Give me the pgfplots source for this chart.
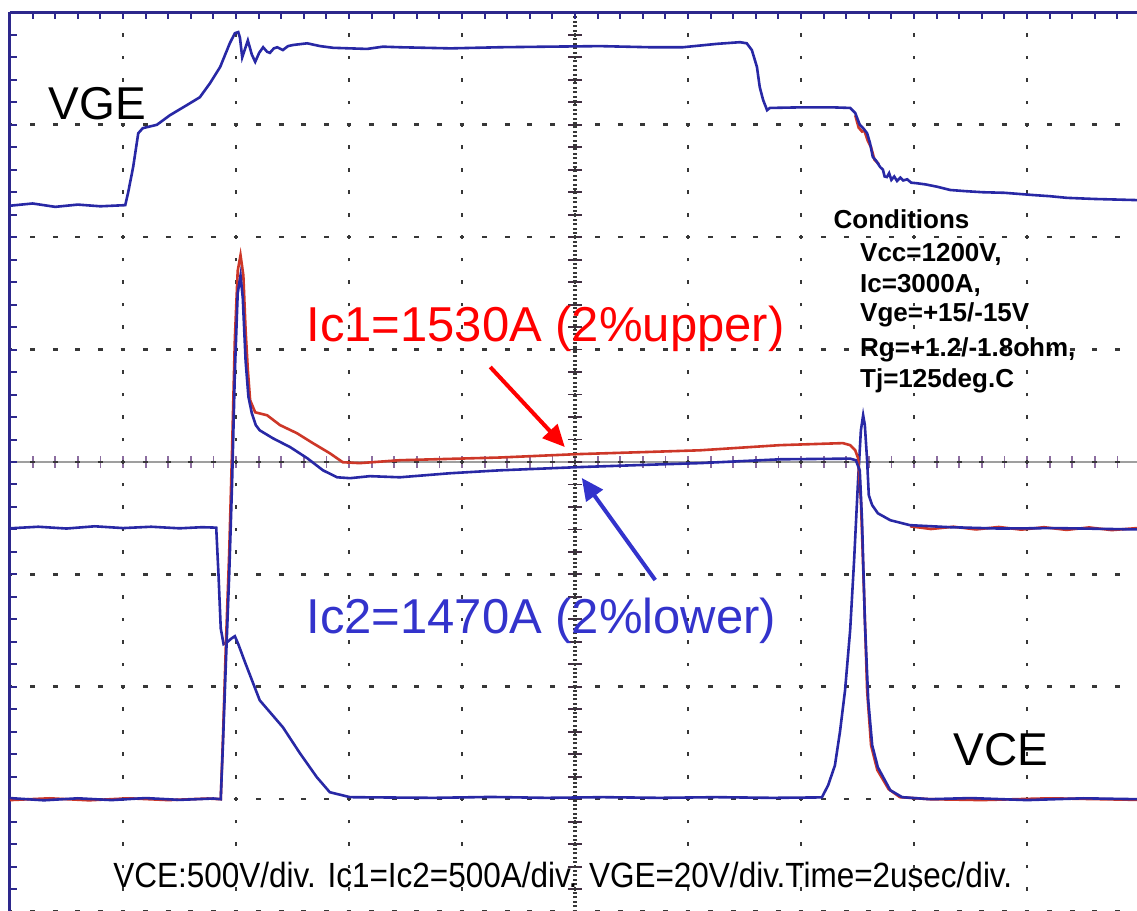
\documentclass[border=0pt]{standalone}
\usepackage{pgfplots}
\pgfplotsset{compat=1.18}
\usepackage{pgfplotstable}
\usepackage{fontspec}
\setmainfont{Liberation Sans}
\newfontfamily\narrowfont[FakeStretch=0.90]{Liberation Sans}
\usetikzlibrary{arrows.meta}
\definecolor{trblue}{RGB}{40,40,165}
\definecolor{trred}{RGB}{205,55,40}
\definecolor{txtred}{RGB}{255,0,0}
\definecolor{txtblue}{RGB}{51,51,204}
\definecolor{frame}{RGB}{45,40,140}
\definecolor{gdot}{RGB}{55,55,55}
\definecolor{ctick}{RGB}{140,110,160}

% VGE (V), 20 V/div
\pgfplotstableread{
t V
0.00 -14.4
0.40 -14.0
0.80 -14.6
1.20 -14.2
1.60 -14.5
2.04 -14.3
2.09 -12.1
2.18 -7.5
2.27 -1.5
2.35 -0.6
2.60 0.0
2.83 1.7
3.13 3.5
3.36 4.9
3.54 7.4
3.72 10.3
3.89 14.5
3.98 16.3
4.04 16.5
4.07 15.5
4.11 12.0
4.16 13.5
4.21 15.0
4.28 12.5
4.34 11.2
4.41 12.8
4.48 13.8
4.55 13.0
4.60 12.8
4.67 13.6
4.73 13.8
4.83 13.3
4.92 14.0
5.01 14.2
5.26 14.5
5.49 14.0
5.72 13.7
6.32 13.5
6.60 13.9
6.90 13.8
7.80 13.6
8.67 13.8
9.50 13.9
10.44 14.0
11.33 13.8
11.91 13.8
12.51 14.4
12.92 14.7
13.04 14.5
13.13 13.3
13.22 10.3
13.27 6.7
13.33 4.4
13.40 2.6
13.45 3.0
13.98 3.1
14.57 3.1
14.87 3.0
14.96 2.1
15.04 0.0
15.10 -0.6
15.17 -1.5
15.22 -3.2
15.27 -5.7
15.33 -6.4
15.40 -7.5
15.45 -8.0
15.48 -9.2
15.52 -9.3
15.56 -8.6
15.60 -9.8
15.65 -9.2
15.70 -10.0
15.76 -9.4
15.81 -9.9
15.88 -9.7
15.95 -10.3
16.05 -10.4
16.20 -10.6
16.40 -11.0
16.64 -11.6
16.90 -11.8
17.22 -12.0
17.60 -12.1
18.11 -12.5
18.40 -12.7
18.71 -13.0
19.20 -13.2
19.95 -13.4
}\vgeblue
\pgfplotstableread{
t V
14.96 1.7
15.02 -0.5
15.08 -1.2
15.12 -1.0
15.18 -2.8
15.24 -4.0
15.30 -6.2
15.38 -7.0
}\vgered

% VCE (V), 500 V/div
\pgfplotstableread{
t V
0.00 1205
0.50 1212
1.00 1204
1.50 1214
2.00 1206
2.50 1212
3.00 1205
3.40 1210
3.65 1208
3.69 1000
3.73 760
3.78 690
3.85 700
3.92 715
3.98 725
4.04 690
4.16 609
4.42 440
4.83 320
5.13 205
5.43 98
5.66 31
6.02 9
6.50 8
7.50 6
8.50 10
9.50 6
10.50 9
11.50 6
12.50 9
13.50 6
14.37 8
14.48 62
14.60 150
14.69 300
14.78 485
14.87 752
14.94 1063
15.01 1419
15.06 1641
15.10 1708
15.13 1664
15.17 1508
15.20 1352
15.26 1308
15.36 1272
15.58 1241
15.93 1219
16.64 1210
17.50 1204
18.50 1206
19.95 1200
}\vceblue
\pgfplotstableread{
t V
15.93 1214
16.30 1202
16.70 1212
17.10 1200
17.50 1211
17.90 1199
18.30 1210
18.70 1198
19.10 1209
19.50 1197
19.95 1206
}\vcered

% Ic2 (A), 500 A/div
\pgfplotstableread{
t A
0.00 5
0.60 -5
1.20 4
1.80 -4
2.40 5
3.00 -3
3.60 3
3.73 0
3.77 250
3.82 600
3.88 1000
3.93 1400
3.98 1900
4.03 2250
4.08 2330
4.12 2230
4.17 1950
4.22 1790
4.28 1717
4.35 1664
4.42 1641
4.65 1606
4.96 1566
5.26 1517
5.54 1463
5.79 1432
6.02 1428
6.37 1437
6.90 1432
7.79 1450
8.67 1463
10.04 1477
11.33 1488
12.21 1495
13.63 1512
14.87 1515
14.97 1508
15.04 1463
15.08 1241
15.13 796
15.19 440
15.26 240
15.36 142
15.58 40
15.79 9
16.28 0
17.00 5
18.00 -4
19.00 4
19.95 0
}\ictwo
% Ic1 (A)
\pgfplotstableread{
t A
0.00 -4
0.70 4
1.40 -5
2.10 4
2.80 -4
3.50 3
3.73 0
3.77 280
3.82 680
3.88 1100
3.93 1550
3.98 2050
4.03 2350
4.08 2420
4.13 2331
4.17 2086
4.21 1908
4.25 1775
4.34 1721
4.55 1708
4.78 1664
5.08 1628
5.36 1584
5.66 1539
5.89 1499
6.19 1495
6.90 1508
8.67 1520
10.04 1535
11.33 1545
12.21 1552
13.63 1575
14.74 1584
14.87 1575
14.96 1552
15.01 1517
15.06 1330
15.12 885
15.17 485
15.24 240
15.35 130
15.55 45
15.75 9
16.28 0
17.20 -4
18.40 4
19.95 -3
}\icone

\begin{document}
\begin{tikzpicture}
\useasboundingbox (0,0) rectangle (568.5pt,455.5pt);
% centre horizontal axis
\begin{axis}[at={(5pt,-0.3pt)}, anchor=south west, scale only axis,
  width=565pt, height=449.6pt,
  xmin=0, xmax=20, ymin=-4, ymax=4,
  axis x line=middle, axis y line=none, axis line style={-},
  x axis line style={-, draw=gray!75, line width=1.4pt},
  xtick={0,0.4,...,20}, xticklabels={}, ytick=\empty,
  tick align=center, major tick length=6pt,
  tick style={draw=ctick, line width=0.9pt}]
\end{axis}
% centre vertical axis
\begin{axis}[at={(5pt,-0.3pt)}, anchor=south west, scale only axis,
  width=565pt, height=449.6pt,
  xmin=-10, xmax=10, ymin=-4, ymax=4,
  axis y line=middle, axis x line=none, axis line style={-},
  y axis line style={-, draw=gdot, line width=1.6pt, dash pattern=on 1pt off 1.2pt},
  ytick={-4,-3.8,...,4}, yticklabels={}, xtick=\empty,
  tick align=center, major tick length=7pt,
  tick style={draw=gdot!85!violet, line width=0.9pt}]
\end{axis}
% main axis: grid, frame, traces
\begin{axis}[at={(5pt,-0.3pt)}, anchor=south west, scale only axis,
  width=565pt, height=449.6pt,
  xmin=0, xmax=20, ymin=-4, ymax=4,
  axis x line*=top, axis y line*=left,
  axis line style={-, draw=frame, line width=1.5pt},
  xtick={0,2,...,20}, ytick={-4,-3,...,4},
  minor x tick num=4, minor y tick num=4,
  xticklabels={}, yticklabels={},
  tick align=inside, major tick length=3.5pt, minor tick length=3.5pt,
  tick style={draw=frame, line width=1pt},
  xmajorgrids, ymajorgrids,
  major x grid style={draw=gdot, line width=1.4pt, dash pattern=on 1.8pt off 9.44pt, dash phase=0.9pt},
  major y grid style={draw=gdot, line width=1.3pt, dash pattern=on 2.4pt off 8.9pt, dash phase=1.2pt},
  clip=false]
% VGE
\addplot[trred, line width=1.3pt] table[x=t, y expr=\thisrow{V}/20+3] {\vgered};
\addplot[trblue, line width=1.3pt] table[x=t, y expr=\thisrow{V}/20+3] {\vgeblue};
% VCE
\addplot[trred, line width=1.3pt] table[x=t, y expr=\thisrow{V}/500-3] {\vcered};
\addplot[trblue, line width=1.3pt] table[x=t, y expr=\thisrow{V}/500-3] {\vceblue};
% Ic
\addplot[trred, line width=1.3pt] table[x=t, y expr=\thisrow{A}/500-3] {\icone};
\addplot[trblue, line width=1.3pt] table[x=t, y expr=\thisrow{A}/500-3] {\ictwo};

% labels
\node[anchor=base, inner sep=0, font=\fontsize{23pt}{27pt}\selectfont] at (axis cs:1.549,3.043) {VGE};
\node[anchor=base, inner sep=0, font=\fontsize{23pt}{27pt}\selectfont] at (axis cs:17.54,-2.696) {VCE};
\node[anchor=base west, inner sep=0, text=txtred, font=\fontsize{24.5pt}{29pt}\selectfont] at (axis cs:5.24,1.068) {Ic1=1530A (2\%upper)};
\node[anchor=base west, inner sep=0, text=txtblue, font=\fontsize{24.5pt}{29pt}\selectfont] at (axis cs:5.24,-1.530) {Ic2=1470A (2\%lower)};
\node[anchor=base west, inner sep=0, font=\narrowfont\fontsize{17.5pt}{21pt}\selectfont] at (axis cs:1.823,-3.790) {VCE:500V/div. Ic1=Ic2=500A/div. VGE=20V/div.Time=2usec/div.};
\node[anchor=base west, inner sep=0, font=\bfseries\fontsize{13pt}{15pt}\selectfont] at (axis cs:14.57,2.073) {Conditions};
\node[anchor=base west, inner sep=0, font=\bfseries\fontsize{13pt}{15pt}\selectfont] at (axis cs:15.04,1.788) {Vcc=1200V,};
\node[anchor=base west, inner sep=0, font=\bfseries\fontsize{13pt}{15pt}\selectfont] at (axis cs:15.04,1.512) {Ic=3000A,};
\node[anchor=base west, inner sep=0, font=\bfseries\fontsize{13pt}{15pt}\selectfont] at (axis cs:15.04,1.246) {Vge=+15/-15V};
\node[anchor=base west, inner sep=0, font=\bfseries\fontsize{13pt}{15pt}\selectfont] at (axis cs:15.04,0.943) {Rg=+1.2/-1.8ohm,};
\node[anchor=base west, inner sep=0, font=\bfseries\fontsize{13pt}{15pt}\selectfont] at (axis cs:15.04,0.667) {Tj=125deg.C};
% arrows
\draw[txtred, line width=2pt, -{Triangle[length=11pt,width=10pt]}] (axis cs:8.50,0.845) -- (axis cs:9.82,0.133);
\draw[txtblue, line width=2pt, -{Triangle[length=11pt,width=10pt]}] (axis cs:11.42,-1.05) -- (axis cs:10.12,-0.142);
\end{axis}
\end{tikzpicture}
\end{document}
